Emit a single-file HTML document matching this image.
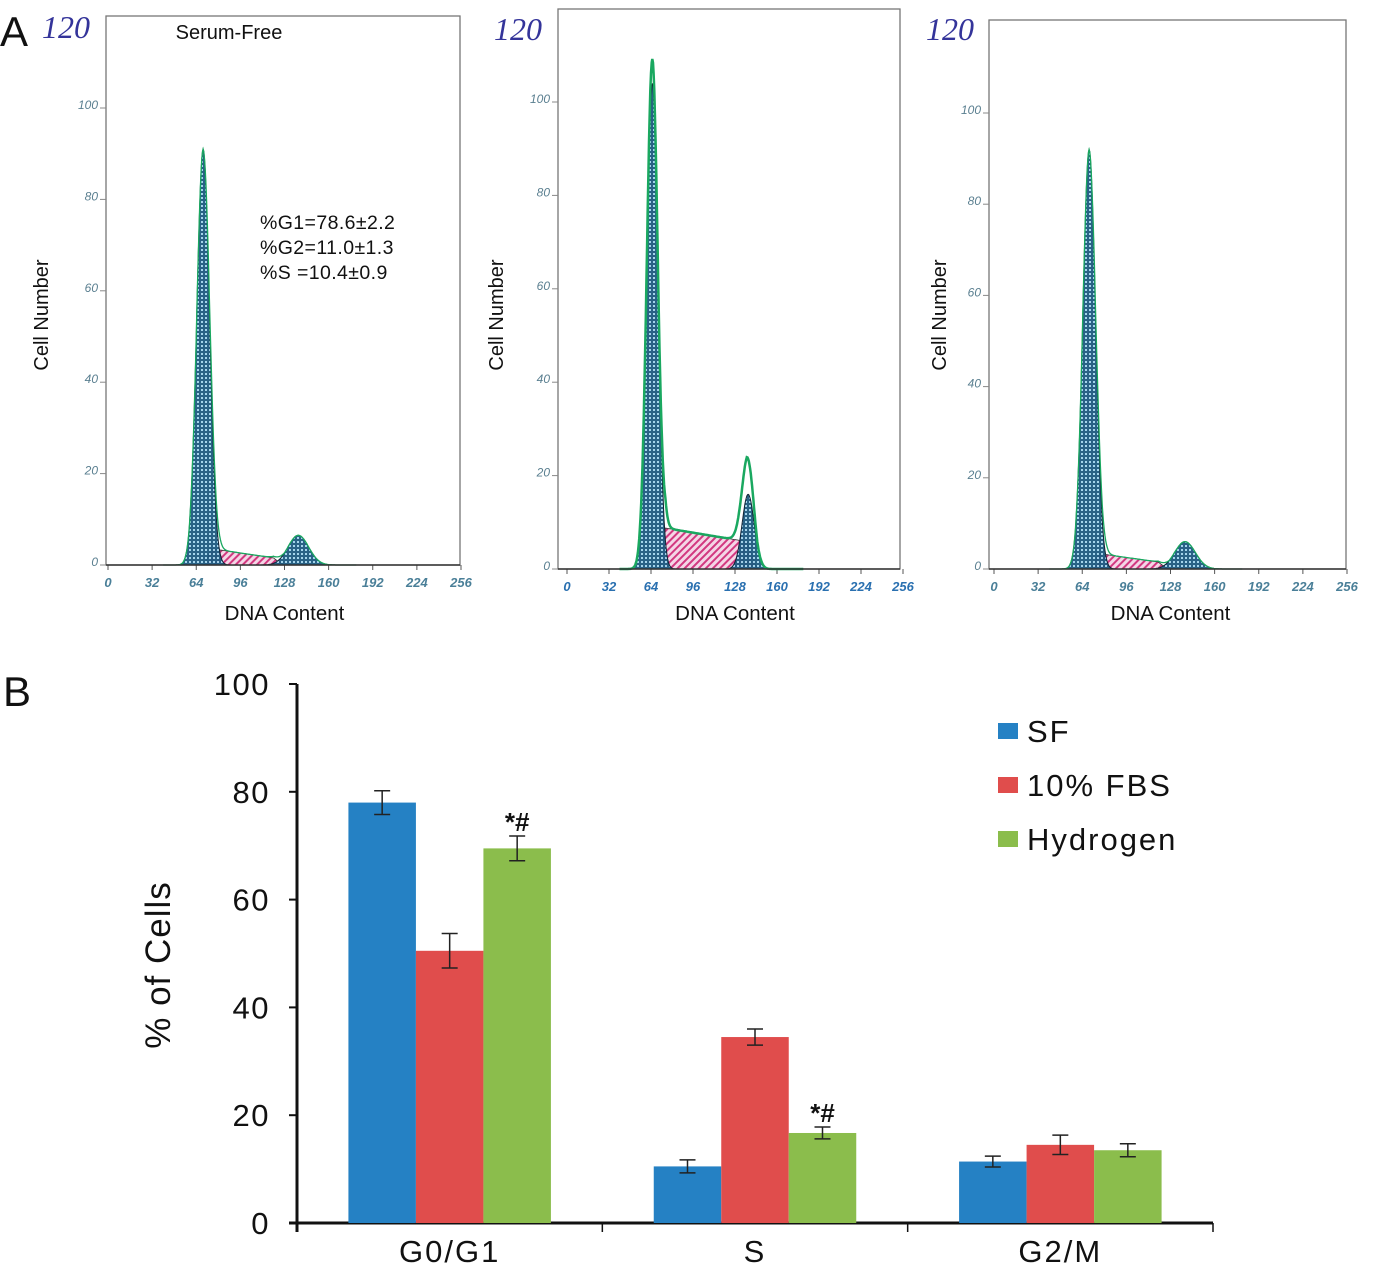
<!DOCTYPE html>
<html><head><meta charset="utf-8"><style>
html,body{margin:0;padding:0;background:#fff;}
svg{display:block;}
</style></head><body>
<svg id="fig" width="1387" height="1269" viewBox="0 0 1387 1269" xmlns="http://www.w3.org/2000/svg">
<defs>
<pattern id="grid" width="4" height="4" patternUnits="userSpaceOnUse">
<rect width="4" height="4" fill="#1d5a80"/><rect x="1" y="1" width="2" height="2" fill="#9fd2ea"/>
</pattern>
<pattern id="hatch" width="5" height="5" patternUnits="userSpaceOnUse" patternTransform="rotate(45)">
<rect width="5" height="5" fill="#f4d6e6"/><rect width="2" height="5" fill="#d23880"/>
</pattern>
</defs>
<text x="0" y="46" font-family="Liberation Sans, sans-serif" font-size="42" fill="#111">A</text>
<text x="3" y="706" font-family="Liberation Sans, sans-serif" font-size="42" fill="#111">B</text>
<g id="hists"></g>
<g id="bars"></g>
</svg>
<script>
const NS='http://www.w3.org/2000/svg';
function mk(tag,attrs,parent,txt){const e=document.createElementNS(NS,tag);for(const k in attrs)e.setAttribute(k,attrs[k]);if(txt!==undefined)e.textContent=txt;parent.appendChild(e);return e;}

// ===== Histogram data (panel A) =====
const histXTicks=[0,32,64,96,128,160,192,224,256];
const histYTicks=[0,20,40,60,80,100];
const g1Pos=[69,65,69];
const g1Height=[91,104,92];
const g1Width=[4.6,4.2,4.6];
const g2Pos=[138,138,138.5];
const g2Height=[6.5,16,6];
const g2Width=[7.5,4.6,7.5];
const sStart=[70,70,71];
const sEnd=[128,145,127];
const sHigh=[3.8,9,3.6];
const sLow=[1.2,5.5,1.2];
const envBoost=[1,1.05,1];
const g2EnvExtra=[0,2.5,0];
// panel geometry (layout, not data)
const panels=[
 {fl:106,ft:16,fr:460,x0:108,x1:461,yb:565,y100:108,lab120:[42,38],ylab:[48,315],title:'Serum-Free'},
 {fl:558,ft:9,fr:900,x0:567,x1:903,yb:569,y100:102,lab120:[494,40],ylab:[503,315]},
 {fl:989,ft:20,fr:1346,x0:994,x1:1347,yb:569,y100:113,lab120:[926,40],ylab:[946,315]}
];
const H=document.getElementById('hists');
panels.forEach((p,i)=>{
 const g=mk('g',{},H);
 
 
 const X=v=>p.x0+(p.x1-p.x0)*v/256;
 const Y=v=>p.yb-(p.yb-p.y100)*v/100;
 const fr=mk('rect',{x:p.fl,y:p.ft,width:p.fr-p.fl,height:p.yb-p.ft,fill:'none',stroke:'#777','stroke-width':1.3},g);
 
 
 const t120=mk('text',{x:p.lab120[0],y:p.lab120[1],'font-family':'Liberation Serif, serif','font-style':'italic','font-size':32,fill:'#34349a'},g,'120');
 
 
 const yl=mk('text',{x:p.ylab[0],y:p.ylab[1],'font-family':'Liberation Sans, sans-serif','font-size':20,fill:'#111','text-anchor':'middle',transform:`rotate(-90 ${p.ylab[0]} ${p.ylab[1]})`},g,'Cell Number');
 
 
 const xl=mk('text',{x:(p.x0+p.x1)/2,y:620,'font-family':'Liberation Sans, sans-serif','font-size':20.5,fill:'#111','text-anchor':'middle'},g,'DNA Content');
 
 
 if(p.title){const tt=mk('text',{x:229,y:39,'font-family':'Liberation Sans, sans-serif','font-size':20,fill:'#111','text-anchor':'middle'},g,p.title);
  
  }
 histYTicks.forEach(v=>{
  mk('line',{x1:p.fl-6,x2:p.fl,y1:Y(v),y2:Y(v),stroke:'#888'},g);
  const t=mk('text',{x:p.fl-8,y:Y(v)+1,'font-family':'Liberation Sans, sans-serif','font-style':'italic','font-size':12,fill:'#5a7f90','text-anchor':'end'},g,String(v));
  
  
 });
 histXTicks.forEach(v=>{
  mk('line',{x1:X(v),x2:X(v),y1:p.yb,y2:p.yb+5,stroke:'#555'},g);
  const t=mk('text',{x:X(v),y:p.yb+22,'font-family':'Liberation Sans, sans-serif','font-style':'italic','font-weight':'bold','font-size':13,fill:i==1?'#2a70b0':'#4a7f98','text-anchor':'middle'},g,String(v));
  
  
 });
 const gauss=(x,m,h,s)=>h*Math.exp(-0.5*((x-m)/s)**2);
 const sv=x=>{ if(x<sStart[i]||x>sEnd[i])return 0; const r=(x-sStart[i])/(sEnd[i]-sStart[i]); let v=sHigh[i]+(sLow[i]-sHigh[i])*r; const ramp=Math.min(1,(x-sStart[i])/5,(sEnd[i]-x)/8); return v*Math.max(0,ramp);};
 function path(fn){let d='';for(let x=40;x<=180;x+=0.5){const y=fn(x);d+=(d?'L':'M')+X(x).toFixed(1)+','+Y(y).toFixed(1);}return d;}
 const g1=x=>gauss(x,g1Pos[i],g1Height[i],g1Width[i]);
 const g2=x=>gauss(x,g2Pos[i],g2Height[i],g2Width[i]);
 const ps=mk('path',{d:path(sv)+'Z',fill:'url(#hatch)',stroke:'#333',"stroke-width":0.8},g);
 
 
 const pg1=mk('path',{d:path(g1)+'Z',fill:'url(#grid)',stroke:'#123',"stroke-width":1,'fill-opacity':0.95},g);
 
 
 const pg2=mk('path',{d:path(g2)+'Z',fill:'url(#grid)',stroke:'#123',"stroke-width":1,'fill-opacity':0.95},g);
 
 
 const env=x=>g1(x)*envBoost[i]+sv(x)+g2(x)+gauss(x,g2Pos[i],g2EnvExtra[i],g2Width[i]);
 const pe=mk('path',{d:path(env),fill:'none',stroke:'#1aa860',"stroke-width":i==1?2.5:1.3},g);
 
 
 mk('line',{x1:p.fl,x2:p.fr,y1:p.yb,y2:p.yb,stroke:'#333','stroke-width':1.5},g);
});
const st=['%G1=78.6±2.2','%G2=11.0±1.3','%S =10.4±0.9'];
st.forEach((s,k)=>{const t=mk('text',{x:260,y:229+k*25,'font-family':'Liberation Sans, sans-serif','font-size':19.5,'letter-spacing':0.4,fill:'#111'},H,s);
 
 });

// ===== Bar chart data (panel B) =====
const categories=['G0/G1','S','G2/M'];
const seriesNames=['SF','10% FBS','Hydrogen'];
const sfValues=[78,10.5,11.4];
const fbsValues=[50.5,34.5,14.5];
const h2Values=[69.5,16.7,13.5];
const sfErr=[2.2,1.2,1.0];
const fbsErr=[3.2,1.5,1.8];
const h2Err=[2.3,1.1,1.2];
const sigMarks=['*#','*#',''];
const yTicks=[0,20,40,60,80,100];
const colors=['#2581c4','#e04d4c','#8bbd4c'];

const B=document.getElementById('bars');
const ax0=297,ax1=1213,yb=1223,yt=684;
const yS=v=>yb-(yb-yt)*v/100;
const gw=(ax1-ax0)/categories.length;
const bw=67.5;
const xC=c=>ax0+gw*(c+0.5);
mk('line',{x1:ax0,x2:ax0,y1:yt,y2:yb+9,stroke:'#111','stroke-width':3},B);
mk('line',{x1:ax0-8,x2:ax1,y1:yb,y2:yb,stroke:'#111','stroke-width':3},B);
yTicks.forEach(v=>{
 mk('line',{x1:ax0-8,x2:ax0,y1:yS(v),y2:yS(v),stroke:'#111','stroke-width':2},B);
 const t=mk('text',{x:270,y:yS(v)+11,'font-family':'Liberation Sans, sans-serif','font-size':31,'letter-spacing':1.5,fill:'#111','text-anchor':'end'},B,String(v));
 
 
});
for(let c=0;c<=categories.length;c++){mk('line',{x1:ax0+gw*c,x2:ax0+gw*c,y1:yb,y2:yb+9,stroke:'#111','stroke-width':1.5},B);}
const yt2=mk('text',{x:170,y:965,'font-family':'Liberation Sans, sans-serif','font-size':35,'letter-spacing':1,fill:'#111','text-anchor':'middle',transform:'rotate(-90 170 965)'},B,'% of Cells');


const all=[sfValues,fbsValues,h2Values], errs=[sfErr,fbsErr,h2Err];
categories.forEach((cat,c)=>{
 const t=mk('text',{x:xC(c),y:1262,'font-family':'Liberation Sans, sans-serif','font-size':31,'letter-spacing':2,fill:'#111','text-anchor':'middle'},B,cat);
 
 
 all.forEach((vals,s)=>{
  const x=xC(c)+(s-1.5)*bw;
  const r=mk('rect',{x:x,y:yS(vals[c]),width:bw,height:yb-yS(vals[c]),fill:colors[s]},B);
  
  
  const cx=x+bw/2,e=errs[s][c];
  const eb=mk('path',{d:`M${cx},${yS(vals[c]+e)}V${yS(vals[c]-e)}M${cx-8},${yS(vals[c]+e)}H${cx+8}M${cx-8},${yS(vals[c]-e)}H${cx+8}`,stroke:'#222','stroke-width':1.5,fill:'none'},B);
  
  
  if(s===2&&sigMarks[c]){const m=mk('text',{x:cx,y:yS(vals[c]+e)-5,'font-family':'Liberation Sans, sans-serif','font-weight':'bold','font-size':26,fill:'#111','text-anchor':'middle'},B,sigMarks[c]);
   
   }
 });
});
seriesNames.forEach((n,s)=>{
 const y=731+s*54;
 const sw=mk('rect',{x:998,y:y-8,width:20,height:16,fill:colors[s]},B);
 
 
 const t=mk('text',{x:1027,y:y+11,'font-family':'Liberation Sans, sans-serif','font-size':31,'letter-spacing':2,fill:'#111'},B,n);
 
 
});
</script>
</body></html>
